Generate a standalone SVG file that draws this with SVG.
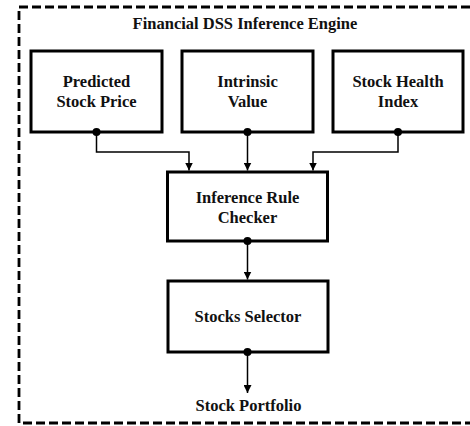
<svg xmlns="http://www.w3.org/2000/svg" width="470" height="426" viewBox="0 0 470 426">
<defs>
<marker id="arr" viewBox="0 0 10 10" refX="10" refY="5" markerWidth="8" markerHeight="8" markerUnits="userSpaceOnUse" orient="auto">
<path d="M0,0 L10,5 L0,10 Z" fill="#000"/>
</marker>
</defs>
<style>
.frame{fill:none;stroke:#000;stroke-width:2.8;stroke-dasharray:9 4}
.box{fill:#fff;stroke:#000;stroke-width:3}
.t{font-family:"Liberation Serif","Times New Roman",serif;font-weight:bold;font-size:16.5px;fill:#111;text-anchor:middle}
.c{fill:none;stroke:#000;stroke-width:1.5}
.dot{fill:#000}
</style>
<rect class="frame" x="19" y="7" width="455" height="416"/>
<text class="t" x="245" y="29">Financial DSS Inference Engine</text>
<g id="predicted">
<rect class="box" x="31" y="51" width="131" height="81"/>
<text class="t" x="96.5" y="87">Predicted</text>
<text class="t" x="96.5" y="107">Stock Price</text>
</g>
<g id="intrinsic">
<rect class="box" x="182" y="51" width="131" height="81"/>
<text class="t" x="247.5" y="87">Intrinsic</text>
<text class="t" x="247.5" y="107">Value</text>
</g>
<g id="health">
<rect class="box" x="333" y="51" width="130" height="81"/>
<text class="t" x="398" y="87">Stock Health</text>
<text class="t" x="398" y="107">Index</text>
</g>
<g id="rule">
<rect class="box" x="167.5" y="172" width="160" height="69"/>
<text class="t" x="247.5" y="203">Inference Rule</text>
<text class="t" x="247.5" y="223">Checker</text>
</g>
<g id="selector">
<rect class="box" x="168" y="281" width="160" height="71"/>
<text class="t" x="248" y="322">Stocks Selector</text>
</g>
<g id="portfolio">
<text class="t" x="248.5" y="411">Stock Portfolio</text>
</g>
<g id="connectors">
<path class="c" d="M96.5,132 V152 H189 V170.5" marker-end="url(#arr)"/>
<path class="c" d="M247.5,132 V170.5" marker-end="url(#arr)"/>
<path class="c" d="M398,132 V152 H313 V170.5" marker-end="url(#arr)"/>
<path class="c" d="M247.5,241 V279.5" marker-end="url(#arr)"/>
<path class="c" d="M247.5,352 V393" marker-end="url(#arr)"/>
<circle class="dot" cx="96.5" cy="132" r="4"/>
<circle class="dot" cx="247.5" cy="132" r="4"/>
<circle class="dot" cx="398" cy="132" r="4"/>
<circle class="dot" cx="247.5" cy="241" r="4"/>
<circle class="dot" cx="247.5" cy="352" r="4"/>
</g>
</svg>
